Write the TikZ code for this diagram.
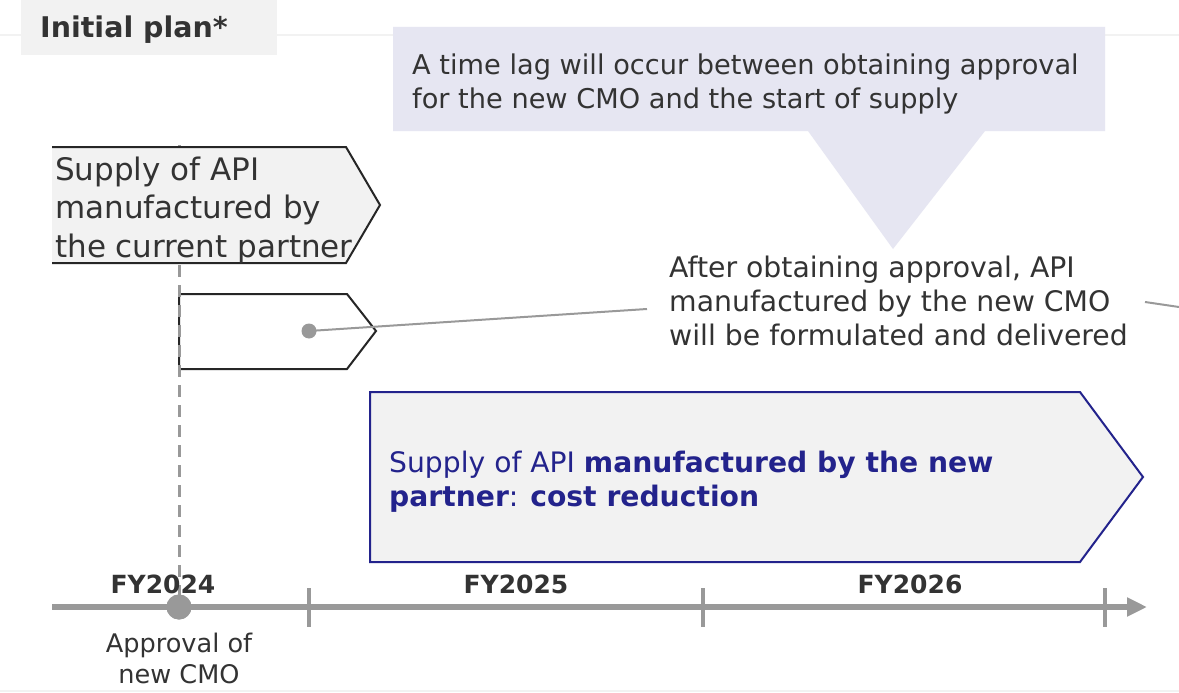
\documentclass[tikz,border=0pt]{standalone}
\usepackage{fontspec}
\setmainfont{DejaVu Sans}
\usetikzlibrary{arrows.meta}
\definecolor{ink}{RGB}{51,51,51}
\definecolor{navy}{RGB}{35,35,140}
\definecolor{panel}{RGB}{242,242,242}
\definecolor{lavender}{RGB}{230,230,242}
\definecolor{axisgray}{RGB}{153,153,153}
\definecolor{edge}{RGB}{38,38,38}
\definecolor{faint}{RGB}{242,242,242}
\tikzset{
  txt/.style={inner sep=0pt, anchor=base west, align=left, text=ink},
  yearlabel/.style={inner sep=0pt, anchor=base, text=ink, font=\bfseries\fontsize{25}{30}\selectfont},
  tick/.style={axisgray, line width=4pt},
  leader/.style={axisgray, line width=2pt},
  outline/.style={edge, line width=2pt, line join=miter},
}
\begin{document}
\begin{tikzpicture}[x=1pt,y=-1pt]
\useasboundingbox (0,0) rectangle (1179,693);
\fill[white] (0,0) rectangle (1179,693);

% faint page rules
\draw[faint, line width=1.5pt] (0,35) -- (1179,35);
\draw[faint, line width=1.5pt] (0,691) -- (1179,691);

% heading tab
\fill[panel] (21,0) rectangle (277,55);
\node[txt, font=\bfseries\fontsize{28.5}{34}\selectfont] (title) at (40,38) {Initial plan*};

% speech bubble (multi-line nodes are placed by the baseline of their last line)
\fill[lavender] (393,27) -- (1105,27) -- (1105,131) -- (985,131) -- (893,249)
  -- (808,131) -- (393,131) -- cycle;
\node[txt, font=\fontsize{27.2}{34}\selectfont] (lag) at (412,108)
  {A time lag will occur between obtaining approval\\for the new CMO and the start of supply};

% supply by the new CMO (small arrow box)
\draw[outline, fill=white] (179,294) -- (347,294) -- (376,331) -- (347,369) -- (179,369) -- cycle;

% approval marker on the axis and its dashed guide
\node[circle, fill=axisgray, minimum size=25pt, inner sep=0pt] (approval) at (179,607) {};
\coordinate (guidetop) at (179,145);
\draw[axisgray, line width=3pt, dash pattern=on 12pt off 8pt] (guidetop) -- (approval.center);

% supply by the current partner
\fill[panel] (52,147) -- (346,147) -- (380,205) -- (346,263) -- (52,263) -- cycle;
\draw[outline] (52,147) -- (346,147) -- (380,205) -- (346,263) -- (52,263);
\node[txt, font=\fontsize{31}{38.5}\selectfont] (current) at (55,257)
  {Supply of API\\manufactured by\\the current partner};

% note on the new CMO
\node[txt, font=\fontsize{28.3}{34}\selectfont] (note) at (669,345)
  {After obtaining approval, API\\manufactured by the new CMO\\will be formulated and delivered};
\node[circle, fill=axisgray, minimum size=15pt, inner sep=0pt] (pin) at (309,331) {};
\coordinate (noteend) at (647,309);
\draw[leader] (pin.center) -- (noteend);
\coordinate (offa) at (1145,302);
\coordinate (offb) at (1179,307);
\draw[leader] (offa) -- (offb);

% supply by the new partner
\draw[navy, line width=2pt, fill=panel, line join=miter] (370,392) -- (1080,392) -- (1143,477)
  -- (1080,562) -- (370,562) -- cycle;
\node[txt, text=navy, font=\fontsize{28.2}{34}\selectfont] (newp) at (389,506)
  {Supply of API \textbf{manufactured by the new}\\\textbf{partner}: \textbf{cost reduction}};

% time axis
\coordinate (axstart) at (52,607);
\coordinate (axend) at (1147,607);
\draw[axisgray, line width=6pt, -{Triangle[length=20pt,width=18pt]}] (axstart) -- (axend);
\draw[tick] (309,588) -- (309,627);
\draw[tick] (703,588) -- (703,627);
\draw[tick] (1105,588) -- (1105,627);
\node[circle, fill=axisgray, minimum size=25pt, inner sep=0pt] at (approval) {};

\node[yearlabel] (fy24) at (163,593) {FY2024};
\node[yearlabel] (fy25) at (516,593) {FY2025};
\node[yearlabel] (fy26) at (910,593) {FY2026};

\node[inner sep=0pt, anchor=base, align=center, text=ink, font=\fontsize{25.6}{31}\selectfont]
  (apptext) at (179,683) {Approval of\\new CMO};
\end{tikzpicture}
\end{document}
